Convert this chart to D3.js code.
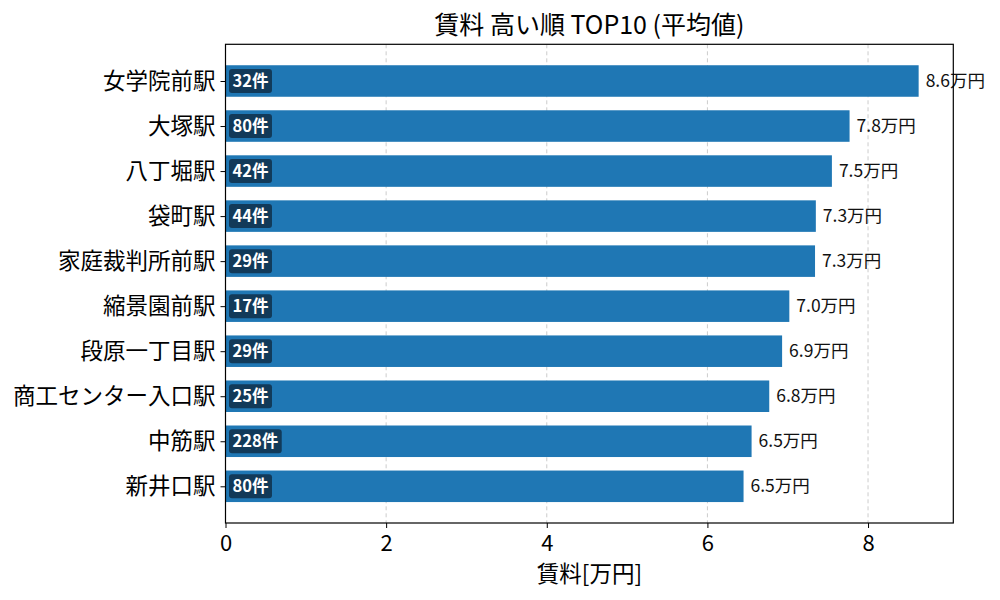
<!DOCTYPE html>
<html><head><meta charset="utf-8">
<script src="https://cdn.jsdelivr.net/npm/d3@7"></script>
<style>
html,body{margin:0;padding:0;background:#fff;}
text{font-family:"Noto Sans CJK JP","Noto Sans",sans-serif;}
</style></head>
<body><svg id="chart" width="1000" height="600"></svg>
<script>
const stations = ["女学院前駅","大塚駅","八丁堀駅","袋町駅","家庭裁判所前駅","縮景園前駅","段原一丁目駅","商工センター入口駅","中筋駅","新井口駅"];
const rents = [8.63, 7.77, 7.55, 7.35, 7.34, 7.02, 6.93, 6.77, 6.55, 6.45];
const counts = [32, 80, 42, 44, 29, 17, 29, 25, 228, 80];
const xTicks = [0, 2, 4, 6, 8];
const title = "賃料 高い順 TOP10 (平均値)";
const xLabel = "賃料[万円]";

const svg = d3.select("#chart");
const L = 225.5, R = 953.3, T = 44.3, B = 523;
const x = d3.scaleLinear().domain([0, d3.max(rents) * 1.05]).range([L, R]);
const y = d3.scaleLinear().domain([-0.815, stations.length - 1 + 0.815]).range([T, B]);
const step = y(1) - y(0);
const bh = step * 0.7;

// grid
svg.append("g").selectAll("line").data(xTicks.filter(d => d > 0)).join("line")
  .attr("x1", d => x(d)).attr("x2", d => x(d)).attr("y1", T).attr("y2", B)
  .attr("stroke", "#cccccc").attr("stroke-width", 1).attr("stroke-dasharray", "4,3");

// bars
svg.append("g").selectAll("rect").data(rents).join("rect")
  .attr("x", x(0)).attr("y", (d, i) => y(i) - bh / 2)
  .attr("width", d => x(d) - x(0)).attr("height", bh)
  .attr("fill", "#1f77b4");

// value labels
svg.append("g").selectAll("text").data(rents).join("text")
  .attr("x", d => x(d) + 7).attr("y", (d, i) => y(i))
  .attr("dy", "0.35em").attr("font-size", 17.5).attr("fill", "#111")
  .text(d => d3.format(".1f")(d) + "万円");

// badges
const badge = svg.append("g").selectAll("g").data(counts).join("g");
badge.append("text")
  .attr("x", (d, i) => x(0) + 7).attr("y", (d, i) => y(i))
  .attr("dy", "0.35em").attr("font-size", 16.5).attr("font-weight", "bold").attr("fill", "#fff")
  .text(d => d + "件");
badge.each(function(d, i) {
  const g = d3.select(this);
  const t = g.select("text").node().getBBox();
  g.insert("rect", "text")
    .attr("x", x(0) + 3.5).attr("y", y(i) - 12).attr("width", t.width + 7).attr("height", 24)
    .attr("rx", 3).attr("fill", "#123a59");
});

// frame
svg.append("rect").attr("x", L).attr("y", T).attr("width", R - L).attr("height", B - T)
  .attr("fill", "none").attr("stroke", "#000").attr("stroke-width", 1.2);

// x axis
const xa = svg.append("g").attr("transform", `translate(0,${B})`)
  .call(d3.axisBottom(x).tickValues(xTicks).tickFormat(d3.format("d")).tickSizeOuter(0).tickSize(5));
xa.select(".domain").remove();
xa.selectAll("text").attr("font-size", 22).attr("fill", "#000").attr("dy", "0.9em")
  .style("font-family", '"Noto Sans CJK JP","Noto Sans",sans-serif');
xa.selectAll("line").attr("stroke", "#000");

// y axis
const ya = svg.append("g").attr("transform", `translate(${L},0)`)
  .call(d3.axisLeft(y).tickValues(d3.range(stations.length)).tickFormat(i => stations[i]).tickSizeOuter(0).tickSize(5).tickPadding(5));
ya.select(".domain").remove();
ya.selectAll("text").attr("font-size", 22.5).attr("fill", "#000")
  .style("font-family", '"Noto Sans CJK JP","Noto Sans",sans-serif');
ya.selectAll("line").attr("stroke", "#000");

// title
svg.append("text").attr("x", (L + R) / 2).attr("y", 34).attr("text-anchor", "middle")
  .attr("font-size", 25).attr("fill", "#000").text(title);

// x label
svg.append("text").attr("x", (L + R) / 2).attr("y", 582).attr("text-anchor", "middle")
  .attr("font-size", 22.5).attr("fill", "#000").text(xLabel);
</script></body></html>
